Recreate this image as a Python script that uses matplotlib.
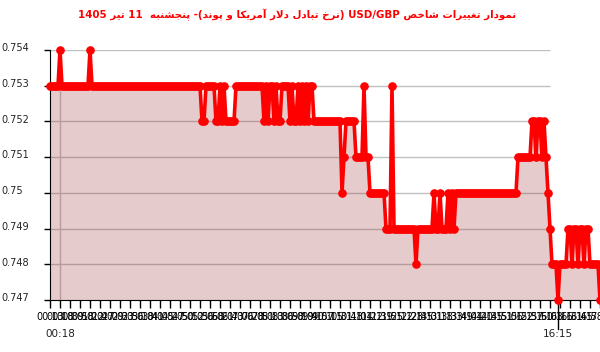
import re

import matplotlib

matplotlib.use("Agg")
import matplotlib.pyplot as plt
import matplotlib.transforms as mtransforms
import numpy as np

# --- data -------------------------------------------------------------------
title_text = "نمودار تغییرات شاخص USD/GBP (نرخ تبادل دلار آمریکا و پوند)- پنجشنبه  11 تیر 1405"

n_samples = 276
# sample index where the quote changes, and the quote from there on
change_idx = [0, 5, 6, 20, 21, 76, 78, 83, 85, 86, 87, 88, 93, 107, 108, 109, 110,
              112, 113, 114, 116, 120, 121, 122, 124, 125, 126, 127, 128, 129, 130,
              132, 146, 147, 148, 153, 157, 158, 160, 168, 171, 172, 183, 184, 192,
              193, 195, 196, 199, 200, 201, 202, 203, 234, 241, 243, 244, 246, 247,
              248, 249, 250, 251, 254, 255, 259, 261, 262, 264, 265, 267, 268, 270, 275]
levels = [0.753, 0.754, 0.753, 0.754, 0.753,
          0.752, 0.753, 0.752, 0.753, 0.752, 0.753, 0.752, 0.753,
          0.752, 0.753, 0.752, 0.753, 0.752, 0.753, 0.752, 0.753,
          0.752, 0.753, 0.752, 0.753, 0.752, 0.753, 0.752, 0.753, 0.752, 0.753, 0.752,
          0.750, 0.751, 0.752, 0.751, 0.753, 0.751, 0.750, 0.749, 0.753, 0.749,
          0.748, 0.749, 0.750, 0.749, 0.750, 0.749, 0.750, 0.749, 0.750, 0.749, 0.750,
          0.751, 0.752, 0.751, 0.752, 0.751, 0.752, 0.751, 0.750, 0.749, 0.748,
          0.747, 0.748, 0.749, 0.748, 0.749, 0.748, 0.749, 0.748, 0.749, 0.748, 0.747]

y_ticks = [0.747, 0.748, 0.749, 0.75, 0.751, 0.752, 0.753, 0.754]
y_labels = ["0.747", "0.748", "0.749", "0.75", "0.751", "0.752", "0.753", "0.754"]

time_labels = ["00:13", "00:18", "00:39", "00:58", "01:22", "01:47", "02:09", "02:33",
               "02:56", "03:18", "03:41", "04:05", "04:27", "04:50", "05:12", "05:36",
               "05:58", "06:21", "06:43", "07:06", "07:28", "07:51", "08:13", "08:36",
               "08:58", "09:19", "09:40", "09:57", "10:15", "10:31", "10:48", "11:04",
               "11:22", "11:39", "11:55", "12:12", "12:28", "12:45", "13:01", "13:18",
               "13:33", "13:49", "14:04", "14:20", "14:35", "14:51", "15:06", "15:22",
               "15:37", "15:50", "16:03", "16:16", "16:31", "16:45", "16:58", "17:10"]
marked_times = [(5, "00:18"), (254, "16:15")]

# --- minimal Persian shaping + right-to-left ordering ------------------------
FORMS = {
    "\u0627": ("\uFE8D", "\uFE8E"),
    "\u0622": ("\uFE81", "\uFE82"),
    "\u062F": ("\uFEA9", "\uFEAA"),
    "\u0631": ("\uFEAD", "\uFEAE"),
    "\u0648": ("\uFEED", "\uFEEE"),
    "\u0628": ("\uFE8F", "\uFE90", "\uFE91", "\uFE92"),
    "\u067E": ("\uFB56", "\uFB57", "\uFB58", "\uFB59"),
    "\u062A": ("\uFE95", "\uFE96", "\uFE97", "\uFE98"),
    "\u062C": ("\uFE9D", "\uFE9E", "\uFE9F", "\uFEA0"),
    "\u062E": ("\uFEA5", "\uFEA6", "\uFEA7", "\uFEA8"),
    "\u0634": ("\uFEB5", "\uFEB6", "\uFEB7", "\uFEB8"),
    "\u0635": ("\uFEB9", "\uFEBA", "\uFEBB", "\uFEBC"),
    "\u063A": ("\uFECD", "\uFECE", "\uFECF", "\uFED0"),
    "\u06A9": ("\uFB8E", "\uFB8F", "\uFB90", "\uFB91"),
    "\u0644": ("\uFEDD", "\uFEDE", "\uFEDF", "\uFEE0"),
    "\u0645": ("\uFEE1", "\uFEE2", "\uFEE3", "\uFEE4"),
    "\u0646": ("\uFEE5", "\uFEE6", "\uFEE7", "\uFEE8"),
    "\u0647": ("\uFEE9", "\uFEEA", "\uFEEB", "\uFEEC"),
    "\u06CC": ("\uFBFC", "\uFBFD", "\uFBFE", "\uFBFF"),
}


def shape(text):
    out = []
    i = 0
    while i < len(text):
        ch = text[i]
        if ch not in FORMS:
            out.append(ch)
            i += 1
            continue
        prev = text[i - 1] if i > 0 else ""
        nxt = text[i + 1] if i + 1 < len(text) else ""
        joins_prev = prev in FORMS and len(FORMS[prev]) == 4
        if ch == "\u0644" and nxt == "\u0627":
            out.append("\uFEFC" if joins_prev else "\uFEFB")
            i += 2
            continue
        forms = FORMS[ch]
        joins_next = len(forms) == 4 and nxt in FORMS
        if joins_prev and joins_next:
            out.append(forms[3])
        elif joins_prev:
            out.append(forms[1])
        elif joins_next:
            out.append(forms[2])
        else:
            out.append(forms[0])
        i += 1
    return "".join(out)


def visual(text):
    runs = re.findall(r"[A-Za-z0-9/.:]+|[^A-Za-z0-9/.:]+", shape(text))
    parts = []
    for run in reversed(runs):
        if re.match(r"[A-Za-z0-9]", run):
            parts.append(run)
        else:
            parts.append(run[::-1].translate(str.maketrans("()", ")(")))
    return "".join(parts)


# --- build the series ---------------------------------------------------------
x = np.arange(n_samples)
lengths = np.diff(change_idx + [n_samples])
values = np.repeat(levels, lengths)

fig = plt.figure(figsize=(6, 3.52), dpi=100)
ax = fig.add_axes([50 / 600, 52 / 352, 550 / 600, 250 / 352])

ax.set_xlim(0, n_samples - 1)
ax.set_ylim(0.747, 0.754)

# horizontal grid stops short of the right edge in the original
ax.hlines(y_ticks[1:], 0, 250, color="#c0c0c0", linewidth=1, zorder=1)
ax.axvline(5, color="#c0c0c0", linewidth=1, zorder=1)

ax.fill_between(x, values, 0.747, color="#993333", alpha=0.25, linewidth=0, zorder=2)
ax.plot(x, values, color="#ff0000", linewidth=2.6, marker="o", markersize=5.2,
        clip_on=False, zorder=4)

for side in ("top", "right"):
    ax.spines[side].set_visible(False)
ax.spines["left"].set_color("black")
ax.spines["bottom"].set_color("black")

ax.set_yticks(y_ticks)
ax.set_yticklabels(y_labels, fontsize=7, color="#222222")
ax.tick_params(axis="y", length=4, width=1, pad=31)
shift_up = mtransforms.ScaledTranslation(0, 2 / 72, fig.dpi_scale_trans)
for label in ax.get_yticklabels():
    label.set_horizontalalignment("left")
    label.set_transform(label.get_transform() + shift_up)

ax.set_xticks(np.arange(0, n_samples, 5))
ax.set_xticklabels(time_labels, fontsize=7, color="black")
ax.tick_params(axis="x", length=6, width=1, pad=3)

xt = ax.get_xaxis_transform()
for pos, text in marked_times:
    if pos > 100:
        ax.plot([pos, pos], [0, -0.115], color="black", linewidth=1,
                transform=xt, clip_on=False, zorder=3)
    ax.text(pos, -0.135, text, transform=xt, ha="center", va="center",
            fontsize=7.5, color="#222222")

fig.text(0.495, 1 - 15 / 352, visual(title_text), ha="center", va="center",
         fontsize=7.4, fontweight="bold", color="#ff0000", family=["DejaVu Sans"])

fig.savefig("out.png", dpi=100)
